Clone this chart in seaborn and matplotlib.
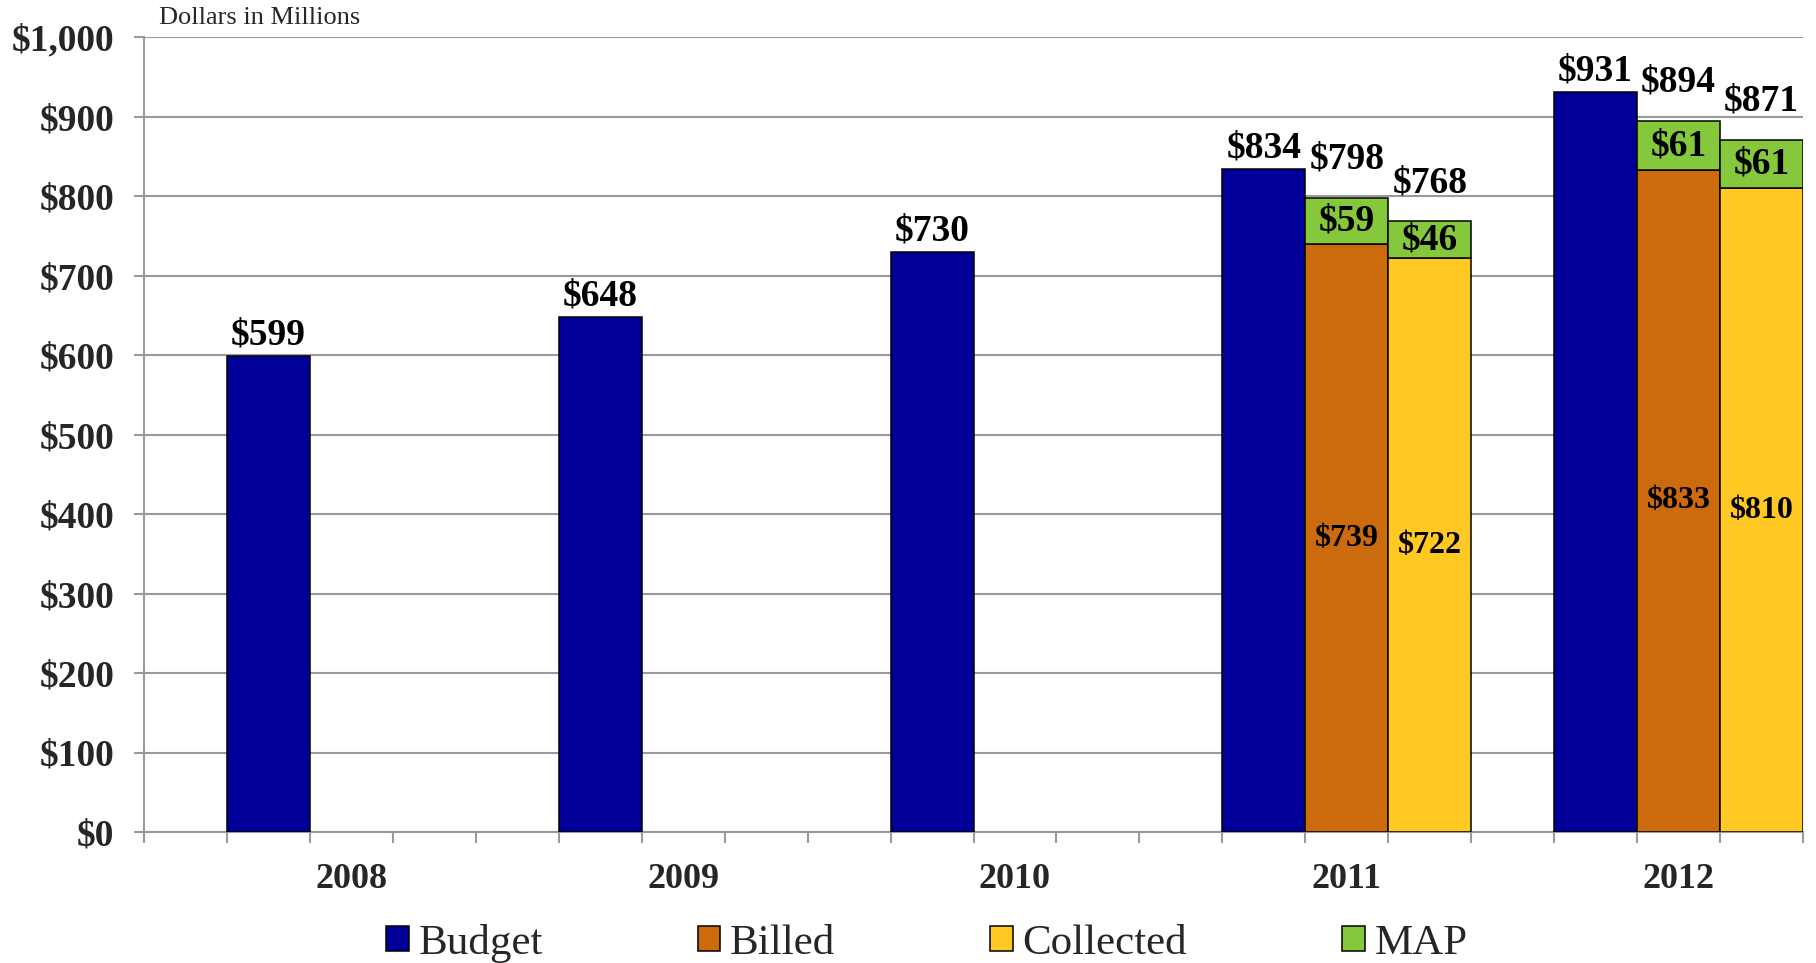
import numpy as np
import pandas as pd
import matplotlib
matplotlib.use("Agg")
import matplotlib.pyplot as plt
from matplotlib.patches import Patch
from matplotlib.ticker import FuncFormatter, FixedLocator
import seaborn as sns

# ---- data (dollars in millions) ----
years = ["2008", "2009", "2010", "2011", "2012"]
budget = [599, 648, 730, 834, 931]
billed = [np.nan, np.nan, np.nan, 739, 833]
collected = [np.nan, np.nan, np.nan, 722, 810]
map_on_billed = [np.nan, np.nan, np.nan, 59, 61]
map_on_collected = [np.nan, np.nan, np.nan, 46, 61]

series_names = ["Budget", "Billed", "Collected", "MAP"]
colors = {"Budget": "#000099", "Billed": "#CC6A0E",
          "Collected": "#FFC822", "MAP": "#86C83C"}

sns.set_theme(style="white")
plt.rcParams["font.family"] = ["Liberation Serif", "DejaVu Serif"]

rows = []
for i, y in enumerate(years):
    for name, vals in (("Budget", budget), ("Billed", billed), ("Collected", collected)):
        if not np.isnan(vals[i]):
            rows.append({"year": y, "series": name, "value": vals[i]})
df = pd.DataFrame(rows)

fig = plt.figure(figsize=(18.16, 9.63), dpi=100)
ax = fig.add_axes([144 / 1816, 1 - 832 / 963, (1803 - 144) / 1816, (832 - 37) / 963])

sns.barplot(data=df, x="year", y="value", hue="series",
            order=years, hue_order=["Budget", "Billed", "Collected"],
            palette=[colors["Budget"], colors["Billed"], colors["Collected"]],
            width=0.75, saturation=1, errorbar=None, legend=False,
            edgecolor="black", linewidth=1.1, ax=ax, zorder=3)

bar_w = 0.25
big = dict(fontsize=27, fontweight="bold", color="black", ha="center", va="center")

# budget labels above the blue bars
for i, v in enumerate(budget):
    xc = i - bar_w
    ax.annotate(f"${v:,.0f}", (xc, v), xytext=(0, 15), textcoords="offset points", **big)

# MAP segments stacked on billed / collected, with labels
for offset, base, extra in ((0.0, billed, map_on_billed), (bar_w, collected, map_on_collected)):
    for i in range(len(years)):
        if np.isnan(base[i]):
            continue
        xc = i + offset
        ax.bar(xc, extra[i], bottom=base[i], width=bar_w, color=colors["MAP"],
               edgecolor="black", linewidth=1.1, zorder=3)
        total = base[i] + extra[i]
        ax.annotate(f"${total:,.0f}", (xc, total), xytext=(0, 28),
                    textcoords="offset points", **big)
        ax.text(xc, base[i] + extra[i] / 2, f"${extra[i]:,.0f}", **big)
        ax.text(xc, base[i] / 2, f"${base[i]:,.0f}", fontsize=23, fontweight="bold",
                color="black", ha="center", va="center")

# axes styling
ax.set_xlim(-0.625, 4.375)
ax.set_ylim(0, 1000)
ax.set_xlabel("")
ax.set_ylabel("")
grid_c = "#9A9A9A"
ax.yaxis.set_major_locator(FixedLocator(np.arange(0, 1001, 100)))
ax.yaxis.set_major_formatter(FuncFormatter(lambda v, p: f"${v:,.0f}"))
ax.grid(axis="y", color=grid_c, linewidth=1.5, zorder=0)
ax.set_axisbelow(True)
for s in ("top", "right"):
    ax.spines[s].set_visible(False)
for s in ("left", "bottom"):
    ax.spines[s].set_color(grid_c)
    ax.spines[s].set_linewidth(1.5)
ax.tick_params(axis="y", which="major", left=True, direction="out", length=7.5,
               width=1.5, color=grid_c, pad=14, labelsize=27)
for lab in ax.get_yticklabels():
    lab.set_fontweight("bold")

ax.set_xticks(range(len(years)))
ax.set_xticklabels(years, fontsize=26, fontweight="bold")
ax.set_xticks(np.arange(-0.625, 4.376, 0.25), minor=True)
ax.tick_params(axis="x", which="major", bottom=True, length=0, pad=22)
ax.tick_params(axis="x", which="minor", bottom=True, direction="out", length=8,
               width=1.5, color=grid_c)

fig.text(159 / 1816, 1 - 18 / 963, "Dollars in Millions", fontsize=19,
         ha="left", va="center")

handles = [Patch(facecolor=colors[n], edgecolor="black", linewidth=1.1, label=n)
           for n in series_names]
fig.legend(handles=handles, loc="center", bbox_to_anchor=(927 / 1816, 1 - 943 / 963),
           ncol=4, frameon=False, fontsize=31, handlelength=0.52, handleheight=0.52,
           handletextpad=0.23, columnspacing=3.6, borderaxespad=0, borderpad=0)

fig.savefig("out.png", dpi=100)
